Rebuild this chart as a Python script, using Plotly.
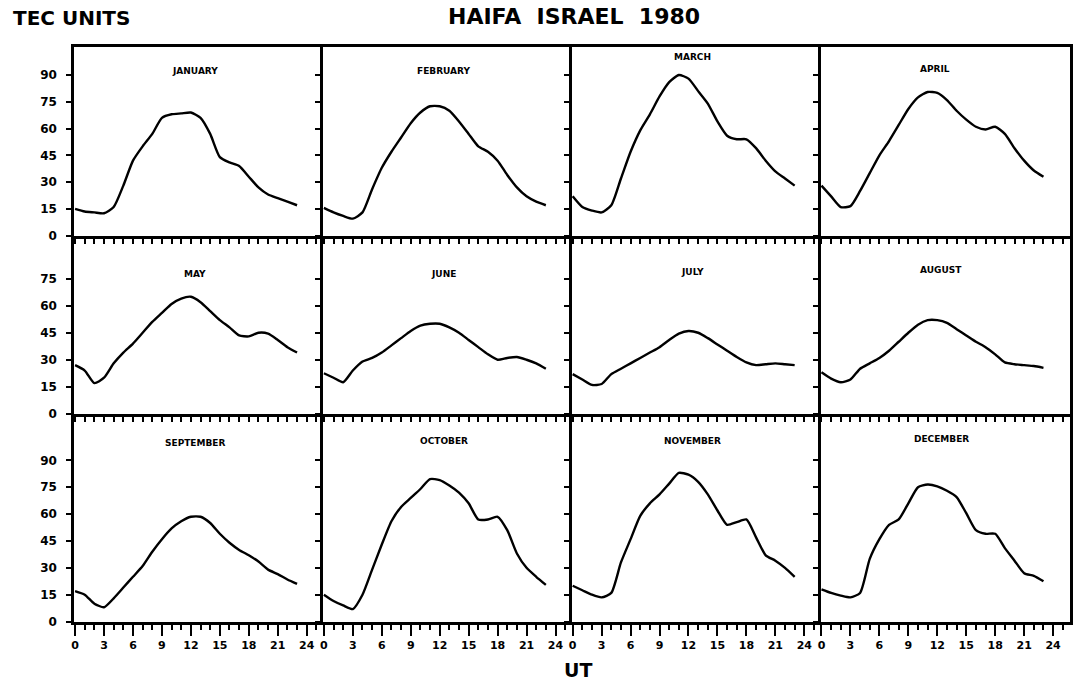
import plotly.graph_objects as go

# ---------------- data ----------------
hours = list(range(24))
month_names = ["JANUARY", "FEBRUARY", "MARCH", "APRIL", "MAY", "JUNE",
               "JULY", "AUGUST", "SEPTEMBER", "OCTOBER", "NOVEMBER", "DECEMBER"]

jan = [15, 13.5, 13, 12.5, 16, 28, 42, 50, 57, 66, 68, 68.5, 69, 66, 57, 44, 41, 39, 33, 27, 23, 21, 19, 17]
feb = [15.5, 13, 11, 9.5, 13, 26, 38, 47, 55, 63, 69, 72.5, 72.5, 70, 64, 57, 50, 47, 42, 34, 27, 22, 19, 17]
mar = [22, 16, 14, 13, 17, 32, 47, 59, 68, 78, 86, 90, 88, 81, 74, 64, 56, 54, 54, 49, 42, 36, 32, 28]
apr = [28, 22, 16, 16.5, 25, 35, 45, 53, 62, 71, 77.5, 80.5, 80, 76, 70, 65, 61, 59.5, 61, 57, 49, 42, 36.5, 33]
may = [27, 24, 17, 20, 28, 34, 39, 45, 51, 56, 61, 64, 65, 62, 57, 52, 48, 43.5, 43, 45, 44.5, 41, 37, 34]
jun = [22.5, 20, 17.5, 24, 29, 31, 34, 38, 42, 46, 49, 50, 50, 48, 45, 41, 37, 33, 30, 31, 31.5, 30, 28, 25]
jul = [22, 19, 16, 16.5, 22, 25, 28, 31, 34, 37, 41, 44.5, 46, 45, 42, 38.5, 35, 31.5, 28.5, 27, 27.5, 28, 27.5, 27]
aug = [23, 19.5, 17.5, 19, 25, 28, 31, 35, 40, 45, 49.5, 52, 52, 50.5, 47, 43.5, 40, 37, 33, 28.5, 27.5, 27, 26.5, 25.5]
sep = [17, 15, 10, 8, 13, 19, 25, 31, 39, 46, 52, 56, 58.5, 58.5, 55, 49, 44, 40, 37, 33.5, 29, 26.5, 23.5, 21]
oct_ = [15, 11.5, 9, 7, 15, 29, 43, 56, 64, 69, 74, 79.5, 79, 76, 72, 66, 57, 57, 58.5, 51, 38, 30, 25, 20.5]
nov = [20, 17.5, 15, 13.5, 16, 33, 46, 59, 66, 71, 77, 83, 82, 78, 71, 62, 54, 55.5, 57, 47, 37, 34, 30, 25]
dec = [18, 16, 14.5, 13.5, 16, 35, 46, 54, 57, 66, 75, 76.5, 75.5, 73, 69.5, 60.5, 51, 49, 49, 41, 34, 27, 25.5, 22.5]

tec_series = [jan, feb, mar, apr, may, jun, jul, aug, sep, oct_, nov, dec]

x_tick_vals = [0, 3, 6, 9, 12, 15, 18, 21, 24]
x_tick_text = ["0", "3", "6", "9", "12", "15", "18", "21", "24"]
y_ticks_rows = [[0, 15, 30, 45, 60, 75, 90],
                [0, 15, 30, 45, 60, 75],
                [0, 15, 30, 45, 60, 75, 90]]

# ---------------- layout geometry ----------------
W, H = 1076, 685
col_left, col_w = 71.5, 249.5
rows_px = [(47, 238), (238, 418), (418, 628)]
y_ranges = [[0, 106], [0, 99], [0, 116]]
x_range = [-0.08, 25.7]
label_pos = [(72, 0), (72, 0), (58, 0), (70, -6),
             (277, 0), (277, 0), (275, 0), (273, 0),
             (448, 0), (446, 0), (446, 0), (444, 0)]

FONT = "DejaVu Sans"
LW = 3


def px_x(p):
    return p / W


def px_y(p):
    return 1 - p / H


fig = go.Figure()
layout = dict(
    width=W, height=H,
    margin=dict(l=0, r=0, t=0, b=0),
    paper_bgcolor="white", plot_bgcolor="white",
    showlegend=False,
    font=dict(family=FONT, color="black"),
)
annotations = []

for i, series in enumerate(tec_series):
    r, c = divmod(i, 4)
    k = i + 1
    xa = "x" if k == 1 else f"x{k}"
    ya = "y" if k == 1 else f"y{k}"
    fig.add_trace(go.Scatter(x=hours, y=series, mode="lines",
                             line=dict(color="black", width=2.4, shape="spline", smoothing=0.6),
                             xaxis=xa, yaxis=ya, hoverinfo="skip"))
    x0 = col_left + c * col_w
    x1 = x0 + col_w
    top, bot = rows_px[r]
    bottom_row = (r == 2)
    first_col = (c == 0)
    layout["xaxis" if k == 1 else f"xaxis{k}"] = dict(
        domain=[px_x(x0), px_x(x1)], anchor=ya, range=x_range,
        showgrid=False, zeroline=False,
        showline=True, mirror=(r == 0), linecolor="black", linewidth=LW,
        tickmode="array", tickvals=x_tick_vals,
        ticktext=x_tick_text if bottom_row else [""] * len(x_tick_vals),
        showticklabels=bottom_row,
        ticks="outside", ticklen=11, tickwidth=2.2, tickcolor="black",
        minor=dict(dtick=1, tick0=0, ticks="outside", ticklen=5, tickwidth=1.8, tickcolor="black"),
        tickfont=dict(family=FONT, size=11, color="black", weight="bold"),
        fixedrange=True,
    )
    layout["yaxis" if k == 1 else f"yaxis{k}"] = dict(
        domain=[px_y(bot), px_y(top)], anchor=xa, range=y_ranges[r],
        showgrid=False, zeroline=False,
        showline=True, mirror=(c == 3), linecolor="black", linewidth=LW,
        tickmode="array", tickvals=y_ticks_rows[r],
        showticklabels=first_col,
        ticks="outside", ticklen=5, tickwidth=2, tickcolor="black",
        ticklabelstandoff=7,
        tickfont=dict(family=FONT, size=12, color="black", weight="bold"),
        fixedrange=True,
    )
    ly, dx = label_pos[i]
    annotations.append(dict(
        text=month_names[i], x=px_x(x0 + 121 + dx), y=px_y(ly),
        xref="paper", yref="paper", xanchor="center", yanchor="middle",
        showarrow=False, font=dict(family=FONT, size=9, color="black", weight="bold")))

annotations += [
    dict(text="TEC UNITS", x=px_x(8), y=px_y(18), xref="paper", yref="paper",
         xanchor="left", yanchor="middle", showarrow=False,
         font=dict(family=FONT, size=20, color="black", weight="bold")),
    dict(text="HAIFA  ISRAEL  1980", x=px_x(573), y=px_y(17), xref="paper", yref="paper",
         xanchor="center", yanchor="middle", showarrow=False,
         font=dict(family=FONT, size=22, color="black", weight="bold")),
    dict(text="UT", x=px_x(577), y=px_y(677), xref="paper", yref="paper",
         xanchor="center", yanchor="middle", showarrow=False,
         font=dict(family=FONT, size=19, color="black", weight="bold")),
]
layout["annotations"] = annotations
fig.update_layout(**layout)

post = ("document.documentElement.style.margin='0';"
        "document.documentElement.style.padding='0';"
        "document.documentElement.style.overflow='hidden';"
        "document.body.style.margin='0';"
        "document.body.style.padding='0';"
        "document.body.style.overflow='hidden';")
fig.write_html("out.html", config={"displayModeBar": False}, post_script=post)
